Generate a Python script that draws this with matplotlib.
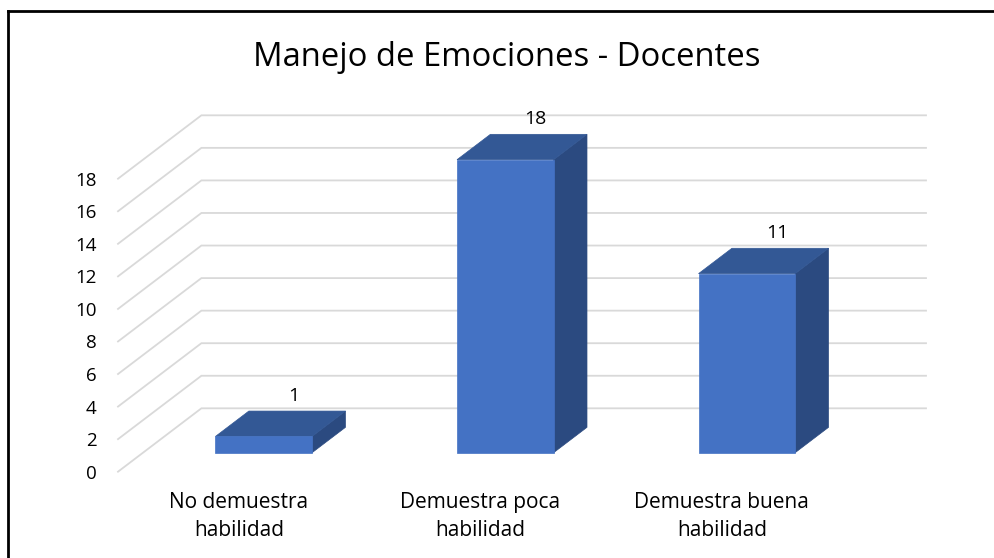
import matplotlib
matplotlib.use("Agg")
import matplotlib.pyplot as plt
from matplotlib.patches import Polygon
from matplotlib.lines import Line2D

categories = ["No demuestra\nhabilidad", "Demuestra poca\nhabilidad", "Demuestra buena\nhabilidad"]
values = [1, 18, 11]
yticks = [0, 2, 4, 6, 8, 10, 12, 14, 16, 18]
title = "Manejo de Emociones - Docentes"

FONT = "Open Sans"
plt.rcParams["font.family"] = [FONT, "DejaVu Sans"]

W, H = 994, 558
fig = plt.figure(figsize=(W / 100, H / 100), dpi=100)
fig.patch.set_facecolor("white")

# axes covering the front plane of the 3D box
ax = fig.add_axes([118 / W, 1 - 471.7 / H, (842.6 - 118) / W, (471.7 - 178.7) / H])
ax.set_xlim(-0.5, len(categories) - 0.5)
ax.set_ylim(0, max(yticks))
for s in ax.spines.values():
    s.set_visible(False)
ax.patch.set_alpha(0)

# oblique depth projection, in data units
DX, DY = 0.3453, 3.894


def proj(x, v, d):
    return (x + d * DX, v + d * DY)


grid_c = "#D9D9D9"
x0, x1 = ax.get_xlim()
for v in yticks:
    xs = [proj(x0, v, 0)[0], proj(x0, v, 1)[0], proj(x1, v, 1)[0]]
    ys = [proj(x0, v, 0)[1], proj(x0, v, 1)[1], proj(x1, v, 1)[1]]
    ax.add_line(Line2D(xs, ys, color=grid_c, lw=1.3, clip_on=False, zorder=1,
                       solid_joinstyle="miter"))

front_c = "#4472C4"
top_c = "#335895"
side_c = "#2B4A80"
bw = 0.4
d0, d1 = 0.30, 0.70
for i, v in enumerate(values):
    xl, xr = i - bw / 2, i + bw / 2
    side = [proj(xr, 0, d0), proj(xr, 0, d1), proj(xr, v, d1), proj(xr, v, d0)]
    top = [proj(xl, v, d0), proj(xr, v, d0), proj(xr, v, d1), proj(xl, v, d1)]
    front = [proj(xl, 0, d0), proj(xr, 0, d0), proj(xr, v, d0), proj(xl, v, d0)]
    ax.add_patch(Polygon(side, closed=True, facecolor=side_c, edgecolor=side_c, lw=0.5,
                         clip_on=False, zorder=3))
    ax.add_patch(Polygon(top, closed=True, facecolor=top_c, edgecolor=top_c, lw=0.5,
                         clip_on=False, zorder=3))
    ax.add_patch(Polygon(front, closed=True, facecolor=front_c, edgecolor=front_c, lw=0.5,
                         clip_on=False, zorder=4))
    lx = proj(i, v, 0.66)[0]
    ly = proj(i, v, d1)[1]
    ax.annotate(str(v), (lx, ly), xytext=(0, 4.5), textcoords="offset points",
                ha="center", va="bottom", fontsize=14, color="#000000",
                annotation_clip=False, zorder=5)

ax.set_yticks(yticks)
ax.set_yticklabels([str(t) for t in yticks], fontsize=13.5)
ax.set_xticks(range(len(categories)))
ax.set_xticklabels(categories, fontsize=15, linespacing=1.42)
ax.tick_params(axis="y", length=0, pad=15.5)
ax.tick_params(axis="x", length=0, pad=14.5)

fig.text(507 / W, 1 - 57 / H, title, ha="center", va="center", fontsize=23.6, color="#000000")

# outer frame (left and top edges visible)
fig.add_artist(Line2D([7.5 / W, 7.5 / W], [0, 1 - 11 / H], transform=fig.transFigure,
                      color="black", lw=2.0, solid_capstyle="projecting"))
fig.add_artist(Line2D([7.5 / W, 1], [1 - 11 / H, 1 - 11 / H], transform=fig.transFigure,
                      color="black", lw=2.0, solid_capstyle="projecting"))

fig.savefig("out.png", dpi=100, facecolor="white")
